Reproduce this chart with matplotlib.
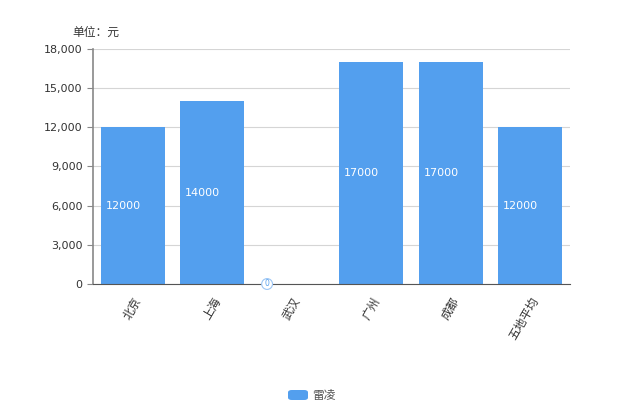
import matplotlib
matplotlib.use("Agg")
import matplotlib.pyplot as plt
from matplotlib.ticker import FuncFormatter, MultipleLocator
from matplotlib.patches import FancyBboxPatch

plt.rcParams['font.family'] = ['DejaVu Sans', 'Noto Sans CJK SC']

cities = ["北京", "上海", "武汉", "广州", "成都", "五地平均"]
prices = [12000, 14000, 0, 17000, 17000, 12000]
series_name = "雷凌"
unit_text = "单位：元"

W, H = 620, 413
fig = plt.figure(figsize=(W / 100, H / 100), dpi=100)
ax = fig.add_axes([93 / W, 1 - 284 / H, (570 - 93) / W, (284 - 49) / H])

blue = "#539fee"
x = list(range(len(cities)))
bars = ax.bar(x, prices, width=0.8, color=blue, zorder=2)

for xi, v in zip(x, prices):
    if v > 0:
        ax.text(xi - 0.34, v / 2, str(v), color="white", fontsize=8,
                ha="left", va="center", zorder=3)
    else:
        ax.text(xi - 0.31, 0, str(v), color=blue, fontsize=5.5, ha="center", va="center",
                zorder=3, bbox=dict(boxstyle="circle,pad=0.12", fc="white", ec="#9cc6f5", lw=0.8))

ax.set_xlim(-0.5, len(cities) - 0.5)
ax.set_ylim(0, 18000)
ax.yaxis.set_major_locator(MultipleLocator(3000))
ax.yaxis.set_major_formatter(FuncFormatter(lambda v, p: f"{int(v):,}"))
ax.grid(axis="y", color="#d5d5d5", linewidth=0.8, zorder=0)
ax.set_axisbelow(True)

ax.set_xticks(x)
ax.set_xticklabels(cities, rotation=60, ha="right", va="top", rotation_mode="anchor",
                   fontsize=8.5, color="#333333")
ax.tick_params(axis="x", length=0, pad=8)
ax.tick_params(axis="y", length=4, color="#888888", labelsize=8, labelcolor="#333333")

for s in ["top", "right"]:
    ax.spines[s].set_visible(False)
ax.spines["left"].set_color("#888888")
ax.spines["left"].set_linewidth(1.2)
ax.spines["bottom"].set_color("#555555")

fig.text(72 / W, 1 - 32 / H, unit_text, fontsize=8.5, color="#333333", ha="left", va="center")

# legend
fig.patches.append(FancyBboxPatch((288 / W, 1 - 400 / H), 20 / W, 10 / H,
                                  boxstyle="round,pad=0,rounding_size=0.006",
                                  transform=fig.transFigure, fc=blue, ec="none"))
fig.text(312 / W, 1 - 395 / H, series_name, fontsize=8.5, color="#555555", ha="left", va="center")

fig.savefig("out.png", dpi=100)
